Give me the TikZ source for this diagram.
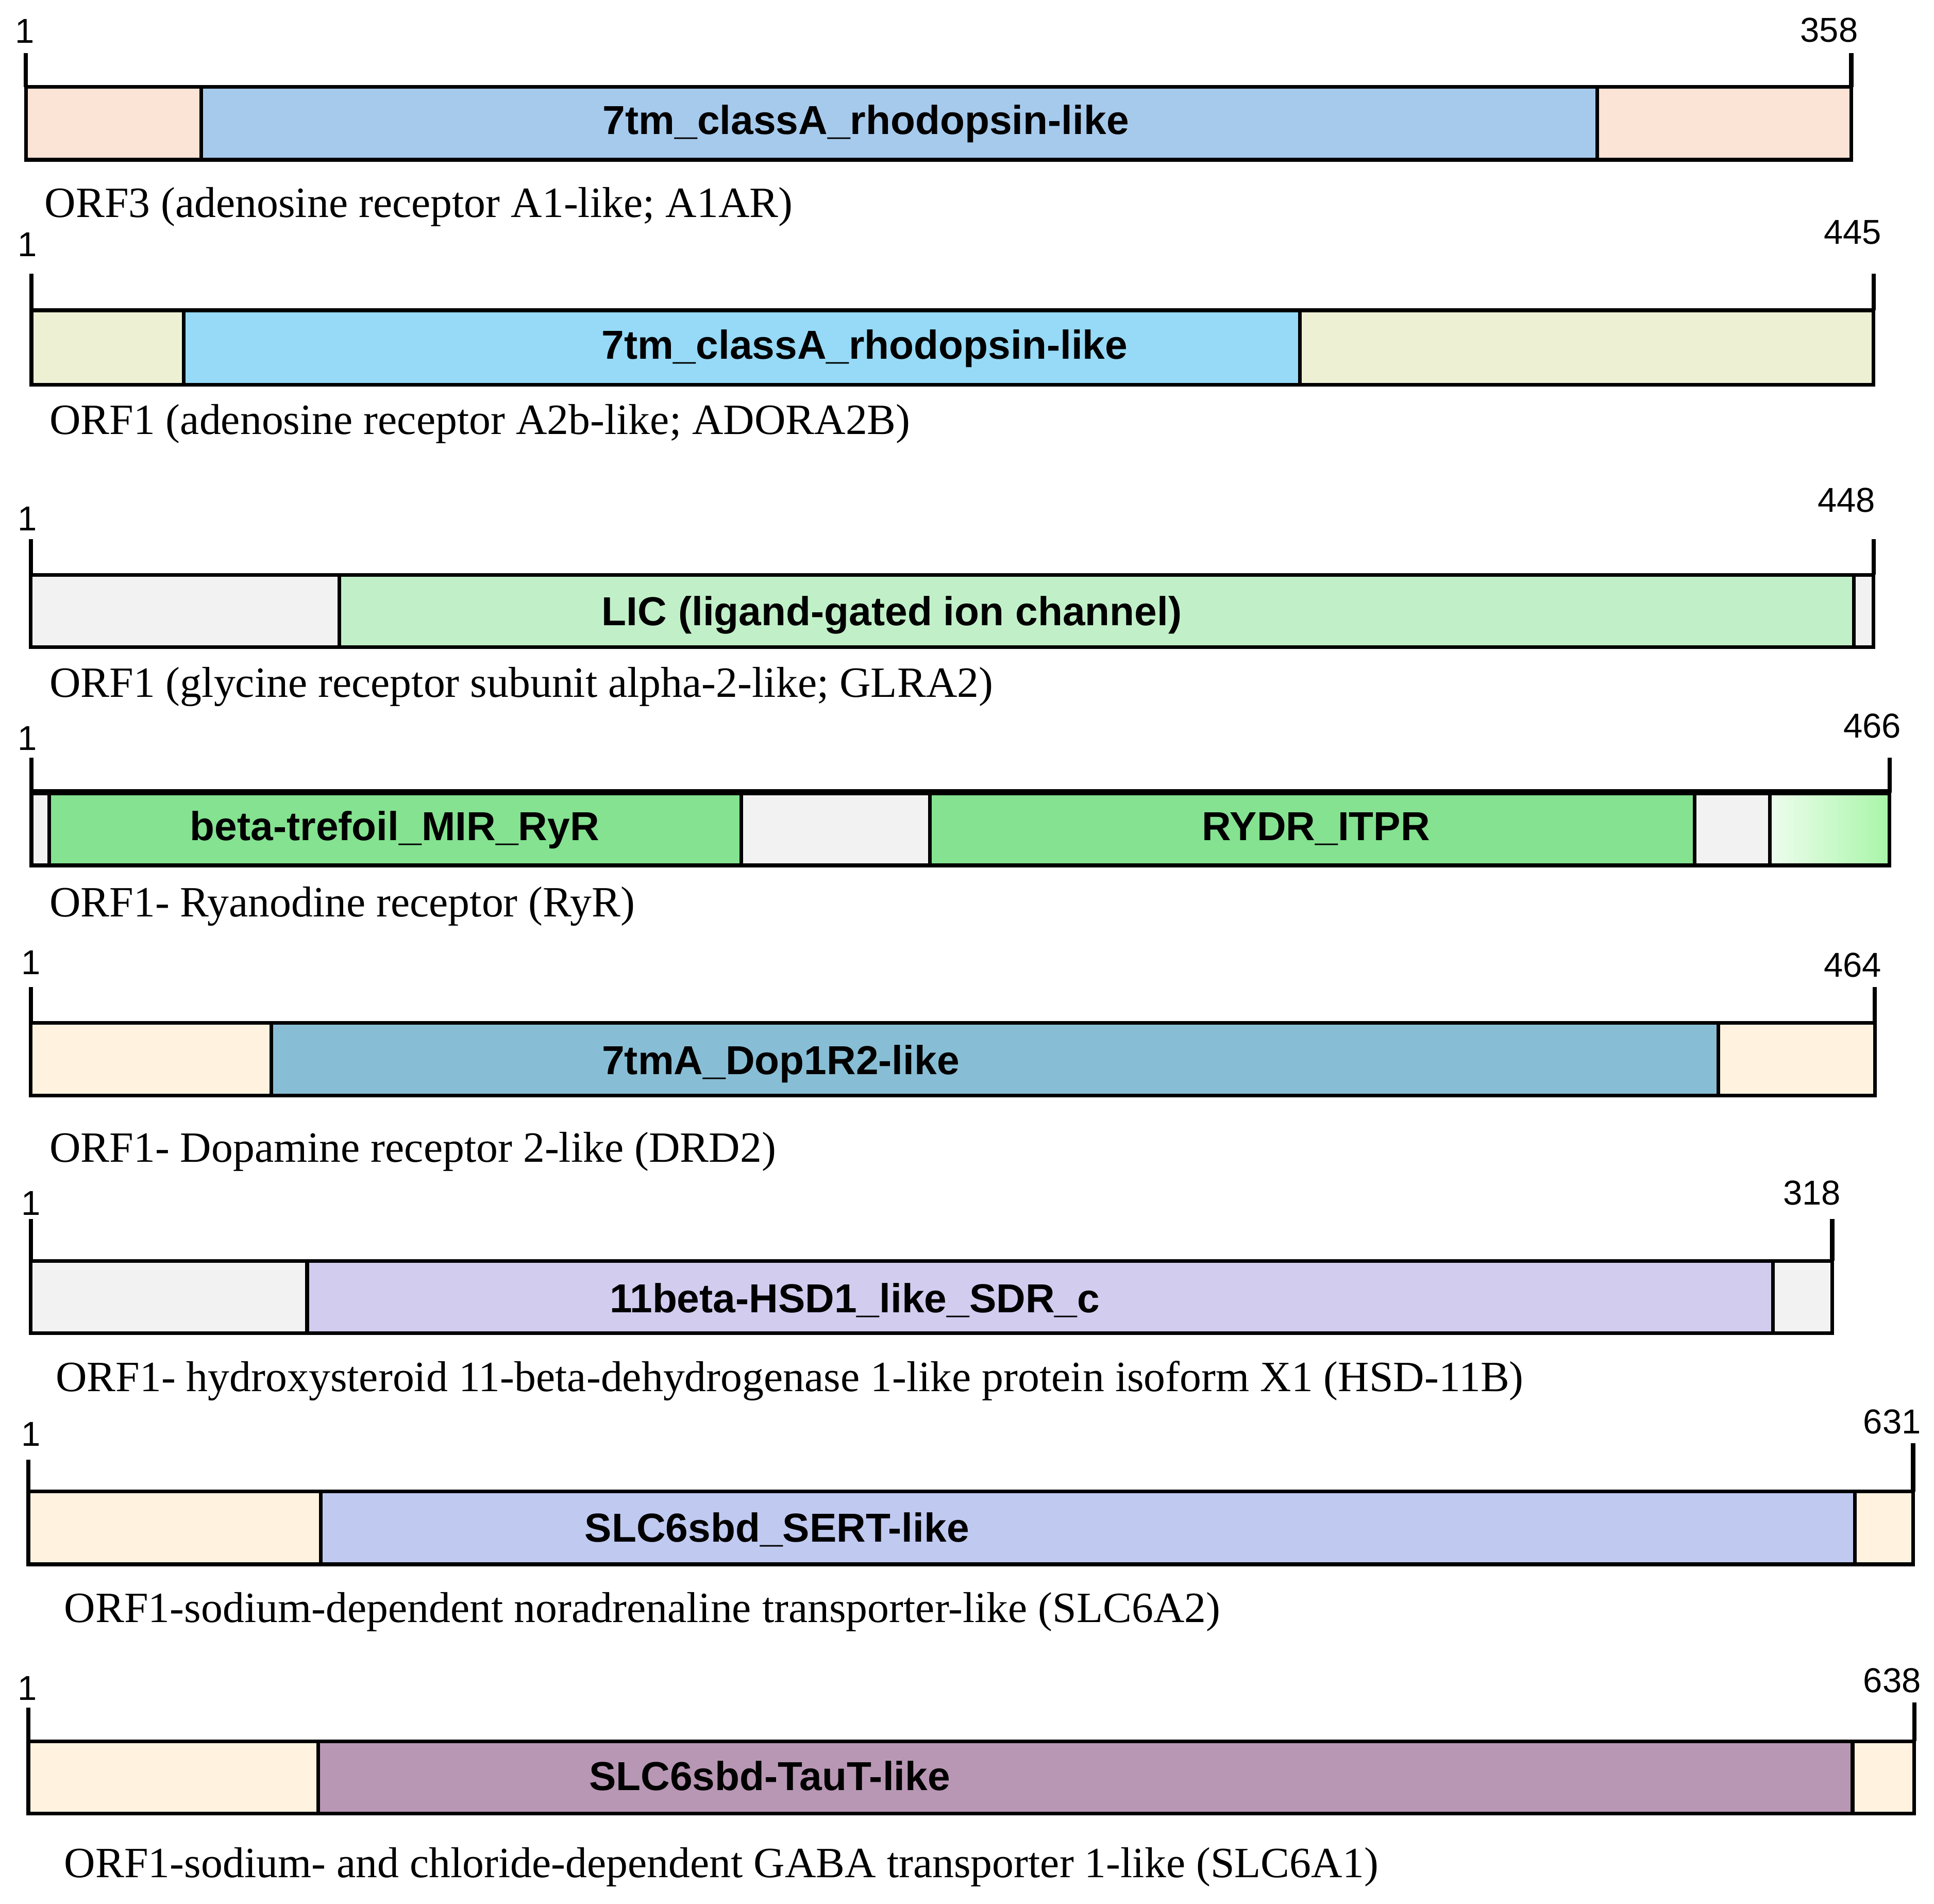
\documentclass[tikz,border=0pt]{standalone}
\usepackage{fontspec}
\setmainfont{Liberation Serif}
\newfontfamily\arialfont{Liberation Sans}
\definecolor{salmonpale}{HTML}{FBE3D6}
\definecolor{skyblue}{HTML}{A6CAEC}
\definecolor{olivepale}{HTML}{EEF0D4}
\definecolor{cyanlight}{HTML}{96DAF7}
\definecolor{greypale}{HTML}{F2F2F2}
\definecolor{mintlight}{HTML}{C1F0C8}
\definecolor{greenmid}{HTML}{84E291}
\definecolor{greentip}{HTML}{A8F5A8}
\definecolor{creampale}{HTML}{FFF3E0}
\definecolor{tealblue}{HTML}{88BED5}
\definecolor{lavender}{HTML}{D2CDEF}
\definecolor{periwinkle}{HTML}{C0C9F0}
\definecolor{mauve}{HTML}{B897B4}
\tikzset{
  seg/.style={draw=black, line width=3pt},
  endtick/.style={line width=3.5pt},
  domlabel/.style={font=\arialfont\bfseries\fontsize{32.8}{38}\selectfont, anchor=base, inner sep=0pt},
  poslabel/.style={font=\arialfont\fontsize{28}{32}\selectfont, anchor=base, inner sep=0pt},
  orflabel/.style={font=\fontsize{35}{40}\selectfont, anchor=base west, inner sep=0pt}
}

\begin{document}
\begin{tikzpicture}[x=1pt,y=-1pt]
	\useasboundingbox (0,0) rectangle (1568,1543);
	
	%%%%% A1AR %%%%%
	\draw[seg, fill=salmonpale] (21,70.5) rectangle (163,129.5);
	\draw[seg, fill=skyblue] (163,70.5) rectangle (1295,129.5);
	\draw[seg, fill=salmonpale] (1295,70.5) rectangle (1501,129.5);
	\draw[endtick] (21,43) -- (21,70.5);
	\draw[endtick] (1501,43) -- (1501,70.5);
	\node[poslabel] (s1) at (20,35) {1};
	\node[poslabel] (e1) at (1483,34) {358};
	\node[domlabel] (d1) at (702,109) {7tm\_classA\_rhodopsin-like};
	\node[orflabel] (o1) at (36,176) {ORF3 (adenosine receptor A1-like; A1AR)};
	
	%%%%% ADORA2B %%%%%
	\draw[seg, fill=olivepale] (25.5,251.5) rectangle (149,312);
	\draw[seg, fill=cyanlight] (149,251.5) rectangle (1054,312);
	\draw[seg, fill=olivepale] (1054,251.5) rectangle (1519,312);
	\draw[endtick] (25.5,222) -- (25.5,251.5);
	\draw[endtick] (1519,222) -- (1519,251.5);
	\node[poslabel] (s2) at (22,208) {1};
	\node[poslabel] (e2) at (1502,198) {445};
	\node[domlabel] (d2) at (701,291) {7tm\_classA\_rhodopsin-like};
	\node[orflabel] (o2) at (40,352) {ORF1 (adenosine receptor A2b-like; ADORA2B)};
	
	%%%%% GLRA2 %%%%%
	\draw[seg, fill=greypale] (25,466) rectangle (275,524.5);
	\draw[seg, fill=mintlight] (275,466) rectangle (1503,524.5);
	\draw[seg, fill=greypale] (1503,466) rectangle (1519,524.5);
	\draw[endtick] (25,437) -- (25,466);
	\draw[endtick] (1519,437) -- (1519,466);
	\node[poslabel] (s3) at (22,430) {1};
	\node[poslabel] (e3) at (1497,415) {448};
	\node[domlabel] (d3) at (723,507) {LIC (ligand-gated ion channel)};
	\node[orflabel] (o3) at (40,565) {ORF1 (glycine receptor subunit alpha-2-like; GLRA2)};
	
	%%%%% RyR %%%%%
	\draw[seg, fill=greypale] (25.5,642.5) rectangle (40,701.5);
	\draw[seg, fill=greenmid] (40,642.5) rectangle (601,701.5);
	\draw[seg, fill=greypale] (601,642.5) rectangle (754,701.5);
	\draw[seg, fill=greenmid] (754,642.5) rectangle (1374,701.5);
	\draw[seg, fill=greypale] (1374,642.5) rectangle (1435,701.5);
	\shade[left color=greentip!20, right color=greentip] (1435,642.5) rectangle (1532,701.5);
	\draw[seg] (1435,642.5) rectangle (1532,701.5);
	\draw[line width=5pt] (25.5,642) -- (1532,642);
	\draw[endtick] (25.5,614) -- (25.5,642.5);
	\draw[endtick] (1532,614) -- (1532,642.5);
	\node[poslabel] (s4) at (22,608) {1};
	\node[poslabel] (e4) at (1518,598) {466};
	\node[domlabel] (d4a) at (320,681) {beta-trefoil\_MIR\_RyR};
	\node[domlabel] (d4b) at (1067,681) {RYDR\_ITPR};
	\node[orflabel] (o4) at (40,743) {ORF1- Ryanodine receptor (RyR)};
	
	%%%%% DRD2 %%%%%
	\draw[seg, fill=creampale] (25,829) rectangle (220,888);
	\draw[seg, fill=tealblue] (220,829) rectangle (1393,888);
	\draw[seg, fill=creampale] (1393,829) rectangle (1520,888);
	\draw[endtick] (25,800) -- (25,829);
	\draw[endtick] (1520,800) -- (1520,829);
	\node[poslabel] (s5) at (25,790) {1};
	\node[poslabel] (e5) at (1502,792) {464};
	\node[domlabel] (d5) at (633,871) {7tmA\_Dop1R2-like};
	\node[orflabel] (o5) at (40,942) {ORF1- Dopamine receptor 2-like (DRD2)};
	
	%%%%% HSD-11B %%%%%
	\draw[seg, fill=greypale] (25,1022) rectangle (249,1080.5);
	\draw[seg, fill=lavender] (249,1022) rectangle (1437.5,1080.5);
	\draw[seg, fill=greypale] (1437.5,1022) rectangle (1485.5,1080.5);
	\draw[endtick] (25,988) -- (25,1022);
	\draw[endtick] (1485.5,988) -- (1485.5,1022);
	\node[poslabel] (s6) at (25,985) {1};
	\node[poslabel] (e6) at (1469,976.5) {318};
	\node[domlabel] (d6) at (693,1064) {11beta-HSD1\_like\_SDR\_c};
	\node[orflabel] (o6) at (45,1128) {ORF1- hydroxysteroid 11-beta-dehydrogenase 1-like protein isoform X1 (HSD-11B)};
	
	%%%%% SLC6A2 %%%%%
	\draw[seg, fill=creampale] (23,1209) rectangle (260,1268);
	\draw[seg, fill=periwinkle] (260,1209) rectangle (1504,1268);
	\draw[seg, fill=creampale] (1504,1209) rectangle (1551,1268);
	\draw[endtick] (23,1183) -- (23,1209);
	\draw[endtick] (1551,1170) -- (1551,1209);
	\node[poslabel] (s7) at (25,1172) {1};
	\node[poslabel] (e7) at (1534,1162) {631};
	\node[domlabel] (d7) at (630,1250) {SLC6sbd\_SERT-like};
	\node[orflabel] (o7) at (52,1315) {ORF1-sodium-dependent noradrenaline transporter-like (SLC6A2)};
	
	%%%%% SLC6A1 %%%%%
	\draw[seg, fill=creampale] (23,1411.5) rectangle (258,1470);
	\draw[seg, fill=mauve] (258,1411.5) rectangle (1502,1470);
	\draw[seg, fill=creampale] (1502,1411.5) rectangle (1552,1470);
	\draw[endtick] (23,1384) -- (23,1411.5);
	\draw[endtick] (1552,1380) -- (1552,1411.5);
	\node[poslabel] (s8) at (22,1378) {1};
	\node[poslabel] (e8) at (1534,1372) {638};
	\node[domlabel] (d8) at (624,1451) {SLC6sbd-TauT-like};
	\node[orflabel] (o8) at (52,1522) {ORF1-sodium- and chloride-dependent GABA transporter 1-like (SLC6A1)};
	
\end{tikzpicture}
\end{document}
